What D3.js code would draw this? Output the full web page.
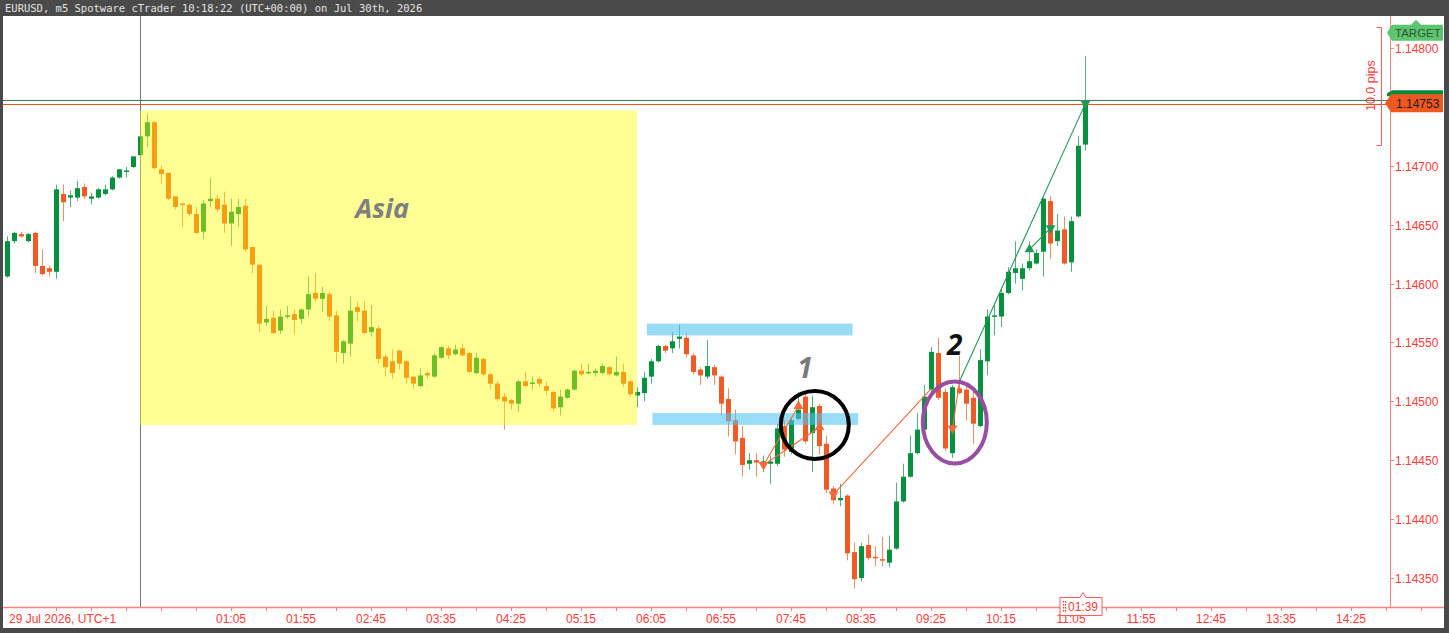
<!DOCTYPE html>
<html><head><meta charset="utf-8">
<script src="https://cdn.jsdelivr.net/npm/d3@7"></script>
<style>html,body{margin:0;padding:0;background:#4a4a4a;overflow:hidden}svg{display:block}</style>
</head><body><svg id="c" width="1449" height="633"></svg>
<script>
// ---------------- DATA ----------------
const symbolTitle = "EURUSD, m5 Spotware cTrader 10:18:22 (UTC+00:00) on Jul 30th, 2026";
const dateLabel = "29 Jul 2026, UTC+1";
const firstCandle = "22:25";   // previous day, UTC+1
const candleStep = 5;          // minutes
const opens = [
1.14606,1.14636,1.14642,1.14636,1.14643,1.14615,1.14613,1.14610,1.14676,1.14673,
1.14673,1.14682,1.14672,1.14673,1.14676,1.14680,1.14690,1.14695,1.14699,1.14709,
1.14725,1.14737,1.14697,1.14694,1.14674,1.14668,1.14667,1.14659,1.14644,1.14670,
1.14672,1.14667,1.14651,1.14659,1.14666,1.14631,1.14616,1.14567,1.14571,1.14560,
1.14572,1.14574,1.14570,1.14578,1.14592,1.14587,1.14591,1.14573,1.14541,1.14549,
1.14580,1.14577,1.14559,1.14562,1.14538,1.14534,1.14543,1.14534,1.14521,1.14513,
1.14524,1.14521,1.14537,1.14545,1.14540,1.14545,1.14541,1.14524,1.14536,1.14523,
1.14515,1.14504,1.14501,1.14498,1.14517,1.14515,1.14519,1.14513,1.14508,1.14495,
1.14503,1.14510,1.14526,1.14524,1.14524,1.14524,1.14529,1.14522,1.14525,1.14517,
1.14505,1.14507,1.14521,1.14534,1.14547,1.14545,1.14553,1.14554,1.14539,1.14527,
1.14521,1.14529,1.14521,1.14502,1.14484,1.14469,1.14447,1.14450,1.14447,1.14447,
1.14447,1.14479,1.14457,1.14485,1.14504,1.14473,1.14496,1.14464,1.14426,1.14416,
1.14420,1.14372,1.14350,1.14378,1.14368,1.14366,1.14363,1.14375,1.14415,1.14436,
1.14456,1.14476,1.14510,1.14541,1.14508,1.14456,1.14511,1.14510,1.14503,1.14479,
1.14534,1.14572,1.14572,1.14592,1.14609,1.14604,1.14613,1.14617,1.14627,1.14670,
1.14636,1.14646,1.14618,1.14657,1.14718];
const highs = [
1.14640,1.14644,1.14644,1.14643,1.14644,1.14629,1.14615,1.14684,1.14684,1.14679,
1.14687,1.14685,1.14677,1.14681,1.14684,1.14691,1.14697,1.14699,1.14708,1.14726,
1.14744,1.14738,1.14700,1.14694,1.14674,1.14668,1.14668,1.14665,1.14671,1.14689,
1.14675,1.14678,1.14672,1.14672,1.14672,1.14631,1.14617,1.14581,1.14577,1.14578,
1.14581,1.14578,1.14579,1.14606,1.14609,1.14597,1.14593,1.14577,1.14552,1.14589,
1.14585,1.14585,1.14582,1.14564,1.14540,1.14544,1.14544,1.14535,1.14522,1.14528,
1.14526,1.14541,1.14547,1.14547,1.14548,1.14549,1.14542,1.14541,1.14537,1.14524,
1.14517,1.14507,1.14502,1.14518,1.14525,1.14521,1.14521,1.14517,1.14509,1.14510,
1.14511,1.14527,1.14532,1.14532,1.14528,1.14532,1.14530,1.14538,1.14532,1.14518,
1.14512,1.14525,1.14536,1.14548,1.14548,1.14559,1.14565,1.14558,1.14541,1.14529,
1.14552,1.14531,1.14522,1.14511,1.14493,1.14479,1.14456,1.14456,1.14454,1.14454,
1.14481,1.14484,1.14486,1.14508,1.14508,1.14505,1.14498,1.14471,1.14428,1.14430,
1.14421,1.14380,1.14380,1.14387,1.14377,1.14385,1.14386,1.14431,1.14447,1.14471,
1.14490,1.14514,1.14546,1.14554,1.14511,1.14514,1.14539,1.14514,1.14510,1.14544,
1.14578,1.14582,1.14597,1.14614,1.14636,1.14617,1.14636,1.14629,1.14673,1.14674,
1.14659,1.14657,1.14657,1.14725,1.14793];
const lows = [
1.14605,1.14634,1.14639,1.14635,1.14609,1.14607,1.14606,1.14604,1.14653,1.14665,
1.14670,1.14672,1.14667,1.14672,1.14675,1.14679,1.14689,1.14690,1.14698,1.14708,
1.14716,1.14697,1.14685,1.14671,1.14663,1.14648,1.14657,1.14642,1.14638,1.14665,
1.14661,1.14643,1.14632,1.14648,1.14627,1.14609,1.14559,1.14564,1.14557,1.14557,
1.14570,1.14557,1.14566,1.14572,1.14585,1.14576,1.14568,1.14533,1.14532,1.14538,
1.14568,1.14557,1.14555,1.14532,1.14521,1.14519,1.14527,1.14515,1.14511,1.14512,
1.14519,1.14520,1.14536,1.14536,1.14539,1.14538,1.14524,1.14523,1.14521,1.14510,
1.14500,1.14476,1.14493,1.14491,1.14512,1.14510,1.14512,1.14505,1.14491,1.14488,
1.14502,1.14509,1.14521,1.14523,1.14521,1.14523,1.14521,1.14521,1.14512,1.14504,
1.14495,1.14500,1.14515,1.14533,1.14541,1.14541,1.14545,1.14537,1.14523,1.14514,
1.14519,1.14514,1.14488,1.14470,1.14455,1.14436,1.14442,1.14436,1.14440,1.14430,
1.14445,1.14453,1.14455,1.14484,1.14464,1.14440,1.14455,1.14422,1.14413,1.14411,
1.14365,1.14341,1.14347,1.14365,1.14360,1.14360,1.14359,1.14374,1.14414,1.14435,
1.14455,1.14474,1.14508,1.14501,1.14458,1.14452,1.14506,1.14484,1.14464,1.14478,
1.14522,1.14556,1.14563,1.14591,1.14600,1.14594,1.14611,1.14616,1.14606,1.14621,
1.14632,1.14616,1.14610,1.14656,1.14713];
const closes = [
1.14636,1.14643,1.14640,1.14642,1.14615,1.14608,1.14610,1.14680,1.14669,1.14675,
1.14681,1.14674,1.14674,1.14680,1.14680,1.14690,1.14697,1.14696,1.14708,1.14725,
1.14737,1.14698,1.14693,1.14672,1.14665,1.14667,1.14659,1.14643,1.14668,1.14672,
1.14663,1.14651,1.14661,1.14665,1.14629,1.14616,1.14566,1.14570,1.14558,1.14572,
1.14573,1.14569,1.14578,1.14591,1.14587,1.14592,1.14572,1.14542,1.14551,1.14577,
1.14576,1.14558,1.14563,1.14536,1.14529,1.14524,1.14532,1.14520,1.14515,1.14522,
1.14522,1.14539,1.14546,1.14539,1.14544,1.14539,1.14525,1.14537,1.14523,1.14515,
1.14502,1.14500,1.14498,1.14517,1.14513,1.14516,1.14515,1.14509,1.14494,1.14504,
1.14510,1.14526,1.14523,1.14525,1.14526,1.14530,1.14523,1.14525,1.14515,1.14506,
1.14508,1.14520,1.14534,1.14547,1.14543,1.14551,1.14555,1.14540,1.14525,1.14522,
1.14530,1.14522,1.14498,1.14483,1.14466,1.14446,1.14450,1.14448,1.14449,1.14449,
1.14477,1.14459,1.14484,1.14493,1.14466,1.14495,1.14462,1.14425,1.14416,1.14418,
1.14371,1.14349,1.14377,1.14367,1.14367,1.14365,1.14374,1.14415,1.14436,1.14456,
1.14476,1.14504,1.14542,1.14503,1.14460,1.14512,1.14507,1.14498,1.14481,1.14535,
1.14572,1.14573,1.14592,1.14610,1.14613,1.14613,1.14619,1.14626,1.14672,1.14634,
1.14645,1.14617,1.14653,1.14717,1.14753];

// 1.14750 is hidden behind the current-price label in the reference
const priceTicks = [1.1435,1.1440,1.1445,1.1450,1.1455,1.1460,1.1465,1.1470,1.1480];
const timeTickLabels = ["01:05","01:55","02:45","03:35","04:25","05:15","06:05","06:55","07:45","08:35","09:25","10:15","11:05","11:55","12:45","13:35","14:25"];
const minorTickStart = "23:00", minorTickStep = 25;

const bidPrice = 1.14753, askPrice = 1.14756;
const targetPrice = 1.14813;
const pipsTop = 1.14818, pipsBottom = 1.14718, pipsText = "10.0 pips";
const countdown = "01:39";
const dayStart = "00:00";

// session box & zones (time strings are UTC+1, same day)
const asiaBox = {from:"00:00", to:"05:55", top:1.14747, bottom:1.14480, label:"Asia", labelAt:"02:53", labelPrice:1.14656};
const zoneFrom = ["06:02","06:06"], zoneTo = ["08:29","08:33"];
const zoneTop = [1.14566,1.14490], zoneBottom = [1.14556,1.14480];

// trade markers (candle index, price)
const markIdx   = [108,113,116,118,135,146,149,154];
const markPrice = [1.14446,1.14496,1.14478,1.14421,1.14477,1.14629,1.14647,1.14753];
const markDir   = ["down","up","up","down","down","up","down","down"];
const markSide  = ["sell","sell","sell","sell","sell","buy","buy","buy"];
const linkFromIdx = [108,108,118,136,136,146];
const linkFromPrice = [1.14446,1.14446,1.14421,1.14517,1.14517,1.14629];
const linkToIdx = [113,116,132,135,154,149];
const linkToPrice = [1.14496,1.14478,1.14511,1.14477,1.14753,1.14647];
const linkSide = ["sell","sell","sell","sell","buy","buy"];

// annotations
const noteText = ["1","2"], noteAt = ["07:55","09:42"], notePrice = [1.14520,1.14539], noteColor = ["#7a7a7a","#111"];
const ringIdx = [115.4,135.4], ringPrice = [1.14480,1.14482], ringRx = [34,32], ringRy = [34,41], ringColor = ["#000","#9a4ea3"];

// ---------------- DRAW ----------------
const W = 1449, H = 633;
const plotL = 3, plotR = 1390, plotT = 16, plotB = 607;
const svg = d3.select("#c");
const toMin = s => { const [h,m] = s.split(":").map(Number); return h*60+m; };
const x = d3.scaleLinear().domain([-97.857, 892.857]).range([plotL, plotR]);
const y = d3.scaleLinear().domain([1.1435, 1.1480]).range([578, 48]);
const firstMin = toMin(firstCandle) - 1440;
const tOf = i => firstMin + i*candleStep;
const xi = i => Math.round(x(tOf(i)));
const crisp = v => Math.round(v) + 0.5;
const BULL = "#06913f", BEAR = "#f15a24";
const SELL = "#f26a3c", BUY = "#1f9a55";
const FONT = "Liberation Sans, Arial, sans-serif";

svg.append("rect").attr("x",0).attr("y",0).attr("width",W).attr("height",H).attr("fill","#4a4a4a");
svg.append("rect").attr("x",plotL).attr("y",plotT).attr("width",1444-plotL).attr("height",628-plotT).attr("fill","#fff");
svg.append("text").attr("x",5).attr("y",12).attr("fill","#e2e2e2")
  .attr("font-family","DejaVu Sans Mono, monospace").attr("font-size",10.5).text(symbolTitle);

// day separator
const dx = crisp(x(toMin(dayStart)));
svg.append("line").attr("x1",dx).attr("x2",dx).attr("y1",plotT).attr("y2",plotB).attr("stroke","#777").attr("stroke-width",1);

// candles
const cg = svg.append("g");
opens.forEach((o,i) => {
  const c = closes[i], col = c >= o ? BULL : BEAR, X = xi(i);
  cg.append("line").attr("x1",X+0.5).attr("x2",X+0.5).attr("y1",y(highs[i])).attr("y2",y(lows[i]))
    .attr("stroke",col).attr("stroke-width",1).attr("stroke-opacity",0.7);
  const yt = y(Math.max(o,c)), yb = y(Math.min(o,c));
  cg.append("rect").attr("x",X-2).attr("y",yt).attr("width",5).attr("height",Math.max(1.5,yb-yt)).attr("fill",col);
});

// Asia session box (over candles)
svg.append("rect").attr("x",x(toMin(asiaBox.from))).attr("y",y(asiaBox.top))
  .attr("width",x(toMin(asiaBox.to))-x(toMin(asiaBox.from))).attr("height",y(asiaBox.bottom)-y(asiaBox.top))
  .attr("fill","rgb(255,255,0)").attr("fill-opacity",0.42);
svg.append("text").attr("x",x(toMin(asiaBox.labelAt))).attr("y",y(asiaBox.labelPrice)).attr("text-anchor","middle")
  .attr("font-family","Open Sans, sans-serif").attr("font-style","italic").attr("font-weight",700)
  .attr("font-size",27).attr("fill","#808080").text(asiaBox.label);

// zones
zoneFrom.forEach((f,i) => {
  svg.append("rect").attr("x",x(toMin(f))).attr("y",y(zoneTop[i]))
    .attr("width",x(toMin(zoneTo[i]))-x(toMin(f))).attr("height",y(zoneBottom[i])-y(zoneTop[i]))
    .attr("fill","rgb(80,195,242)").attr("fill-opacity",0.58);
});

// bid / ask lines
const askY = Math.ceil(y(askPrice)) + 0.5, bidY = Math.ceil(y(bidPrice)) + 0.5;
svg.append("line").attr("x1",plotL).attr("x2",plotR).attr("y1",askY).attr("y2",askY).attr("stroke","#3b7d57").attr("stroke-width",1);
svg.append("line").attr("x1",plotL).attr("x2",plotR).attr("y1",bidY).attr("y2",bidY).attr("stroke","#f4511e").attr("stroke-width",1);

// trade links & markers
linkFromIdx.forEach((f,i) => {
  svg.append("line").attr("x1",xi(f)+0.5).attr("y1",y(linkFromPrice[i])).attr("x2",xi(linkToIdx[i])+0.5).attr("y2",y(linkToPrice[i]))
    .attr("stroke",linkSide[i]==="sell"?SELL:BUY).attr("stroke-width",1.1);
});
const tri = d3.symbol().type(d3.symbolTriangle).size(42);
markIdx.forEach((m,i) => {
  svg.append("path").attr("d",tri()).attr("fill",markSide[i]==="sell"?SELL:BUY)
    .attr("transform",`translate(${xi(m)+0.5},${y(markPrice[i])}) rotate(${markDir[i]==="down"?180:0})`);
});

// rings
ringIdx.forEach((r,i) => {
  svg.append("ellipse").attr("cx",x(tOf(r))).attr("cy",y(ringPrice[i])).attr("rx",ringRx[i]).attr("ry",ringRy[i])
    .attr("fill","none").attr("stroke",ringColor[i]).attr("stroke-width",4);
});
noteText.forEach((t,i) => {
  svg.append("text").attr("x",x(toMin(noteAt[i]))).attr("y",y(notePrice[i])).attr("text-anchor","middle")
    .attr("font-family","Open Sans, sans-serif").attr("font-style","italic").attr("font-weight",700)
    .attr("font-size",28).attr("fill",noteColor[i]).text(t);
});

// pips bracket
const AX = "#ff8080", TX = "#ff3a3a";
const bx = 1381.5;
svg.append("path").attr("d",`M${bx-5},${crisp(y(pipsTop))}H${bx}V${crisp(y(pipsBottom))}H${bx-5}`).attr("fill","none").attr("stroke","#ff5a5a").attr("stroke-width",1);
svg.append("text").attr("transform",`translate(${bx-7},${(y(pipsTop)+y(pipsBottom))/2}) rotate(-90)`)
  .attr("text-anchor","middle").attr("font-family",FONT).attr("font-size",12.5).attr("fill",TX).text(pipsText);

// axes
svg.append("line").attr("x1",plotR+0.5).attr("x2",plotR+0.5).attr("y1",plotT).attr("y2",plotB).attr("stroke",AX);
svg.append("line").attr("x1",plotL).attr("x2",1444).attr("y1",plotB+0.5).attr("y2",plotB+0.5).attr("stroke",AX).attr("stroke-width",1.5);
priceTicks.forEach(p => {
  const yy = crisp(y(p));
  svg.append("line").attr("x1",plotR).attr("x2",plotR+4).attr("y1",yy).attr("y2",yy).attr("stroke",AX);
  svg.append("text").attr("x",plotR+5).attr("y",yy+4).attr("font-family",FONT)
    .attr("font-size",12).attr("fill",TX).text(d3.format(".5f")(p));
});
for (let t = toMin(minorTickStart)-1440; x(t) < 1444; t += minorTickStep) {
  const xx = crisp(x(t));
  svg.append("line").attr("x1",xx).attr("x2",xx).attr("y1",plotB).attr("y2",plotB+4).attr("stroke",AX);
}
timeTickLabels.forEach(s => {
  svg.append("text").attr("x",x(toMin(s))).attr("y",623).attr("text-anchor","middle")
    .attr("font-family",FONT).attr("font-size",12).attr("fill",TX).text(s);
});
svg.append("text").attr("x",9).attr("y",623).attr("font-family",FONT)
  .attr("font-size",12).attr("fill",TX).text(dateLabel);

// countdown box
const lx = xi(opens.length-1);
const cb = svg.append("g");
cb.append("path").attr("d",`M${lx-25},597.5 H${lx-5} L${lx-2},592.5 L${lx+1},597.5 H${lx+17} V615.5 H${lx-25} Z`)
  .attr("fill","#fff").attr("stroke","#ff5a5a").attr("stroke-width",1);
for (let r=0;r<4;r++) for (let c2=0;c2<2;c2++)
  cb.append("rect").attr("x",lx-22+c2*2).attr("y",601+r*3).attr("width",1.2).attr("height",1.6).attr("fill",TX);
cb.append("text").attr("x",lx-17).attr("y",611).attr("font-family",FONT)
  .attr("font-size",12).attr("fill",TX).text(countdown);

// target label
const ty = y(targetPrice);
svg.append("path").attr("d",`M1387,${ty} L1392,${ty-8} H1411 L1416,${ty-13} L1421,${ty-8} H1443 V${ty+8} H1392 Z`).attr("fill","#5ec46f");
svg.append("text").attr("x",1395).attr("y",ty+4.5).attr("font-family",FONT)
  .attr("font-size",11.5).attr("fill","#2a5a33").text("TARGET");

// current price label
const by = y(bidPrice);
svg.append("path").attr("d",`M1387,${by-10} L1392,${by-13} H1443 V${by-7} H1387 Z`).attr("fill","#0a8a3c");
svg.append("path").attr("d",`M1385,${by} L1391,${by-9} H1443 V${by+9} H1391 Z`).attr("fill","#f0581f");
svg.append("text").attr("x",1396).attr("y",by+4.5).attr("font-family",FONT)
  .attr("font-size",12).attr("fill","#1a1a1a").text(d3.format(".5f")(bidPrice));
</script></body></html>
